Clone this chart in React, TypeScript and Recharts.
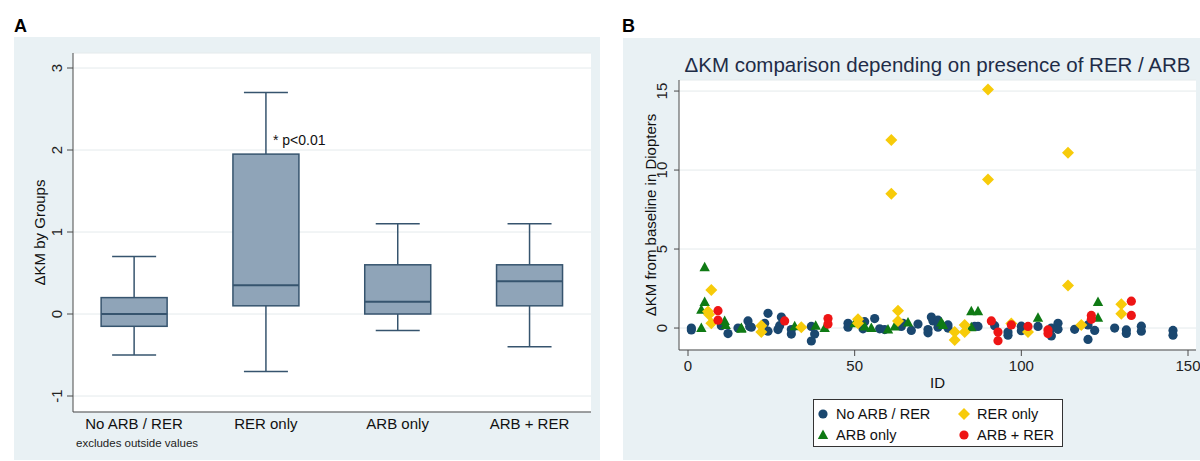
import React from "react";
import {
  ComposedChart,
  Bar,
  XAxis,
  YAxis,
  CartesianGrid,
  ScatterChart,
  Scatter,
  Legend,
  Label,
} from "recharts";

const FONT = "'Liberation Sans', Arial, Helvetica, sans-serif";
const BG = "#e9f1f4";
const GRID = "#e4eaec";
const AXIS = "#4a4a4a";

// Panel A: box plot per group
const groups = ["No ARB / RER", "RER only", "ARB only", "ARB + RER"];
const groupPos = [1, 2, 3, 4];
const whiskerLow = [-0.5, -0.7, -0.2, -0.4];
const quartile1 = [-0.15, 0.1, 0, 0.1];
const medians = [0, 0.35, 0.15, 0.4];
const quartile3 = [0.2, 1.95, 0.6, 0.6];
const whiskerHigh = [0.7, 2.7, 1.1, 1.1];
const boxTicks = [-1, 0, 1, 2, 3];

// Panel B: [ID, ΔKM]
const noArbRer: [number, number][] = [
  [1, 0], [1, -0.12], [10, 0.15], [12, -0.35], [15, 0], [18, 0.45], [18.5, 0.1],
  [19, 0.05], [23, 0.3], [24, 0.93], [24, -0.2], [27, -0.1], [27.5, 0.15], [28, 0.7],
  [31, -0.38], [31, -0.1], [37, -0.82], [38, -0.38], [37, 0.1], [48, 0.3], [48, 0.05],
  [52.5, -0.05], [53, 0.4], [56, 0.6], [57.5, -0.05], [59, -0.1], [64, 0.1], [64.5, 0.3],
  [67, -0.15], [69, 0.25], [72, -0.1], [72, -0.3], [73, 0.7], [73.5, 0.45], [75, 0.5],
  [75, 0.05], [78, 0.2], [78, 0], [86, 0.1], [87, 0.1], [92, 0.15], [96, -0.45],
  [96, -0.25], [100, 0.12], [100, -0.17], [105, 0.1], [109, -0.5], [109, 0], [111, 0.3],
  [111, -0.08], [116, -0.08], [120, 0.2], [120, -0.72], [122, -0.15], [128, 0],
  [131.5, -0.12], [131.5, -0.34], [136, 0.12], [136, -0.2], [145.5, -0.15], [145.5, -0.45],
];
const arbOnly: [number, number][] = [
  [4, 0], [4, 1.15], [5, 3.85], [5, 1.65], [11, 0.45], [11.3, 0.2], [16, 0], [16, -0.05],
  [32, 0.12], [38.3, 0.15], [41, 0], [50, 0.3], [53, 0.1], [55, 0], [60, -0.1], [62, 0.1],
  [66, 0.35], [76, 0.35], [76.5, 0.2], [85, 1.07], [87, 1.07], [85, 0.05], [105, 0.65],
  [123, 1.65], [123, 0.65],
];
const rerOnly: [number, number][] = [
  [6, 1.05], [6.3, 0.85], [7, 2.4], [7, 0.3], [22, 0.15], [22, -0.25], [34, 0.05],
  [51, 0.55], [51, 0.3], [61, 11.9], [61, 8.5], [63, 1.1], [63, 0.45], [80, -0.75],
  [80, -0.25], [83, 0.2], [83, -0.25], [90, 15.1], [90, 9.4], [97, 0.28], [102, -0.25],
  [114, 11.1], [114, 2.7], [118, 0.2], [130, 1.5], [130, 0.9],
];
const arbRer: [number, number][] = [
  [9, 1.1], [9, 0.5], [29, 0.45], [42, 0.6], [42, 0.25], [91, 0.45], [93, -0.25],
  [93, -0.8], [97, 0.2], [102, 0.1], [108, -0.12], [108, -0.35], [121, 0.8], [121, 0.55],
  [133, 1.7], [133, 0.8],
];
const idTicks = [0, 50, 100, 150];
const kmTicks = [0, 5, 10, 15];

const boxData = groups.map((g, i) => ({
  group: g,
  pos: groupPos[i],
  lo: whiskerLow[i],
  q1: quartile1[i],
  med: medians[i],
  q3: quartile3[i],
  hi: whiskerHigh[i],
}));

const toPts = (arr: [number, number][]) => arr.map(([id, km]) => ({ id, km }));

const BOX_FILL = "#8fa4b8";
const BOX_LINE = "#36546e";

function BoxShape(props: any) {
  const { x, y, width, height, payload } = props;
  const top = Math.min(y, y + height);
  const h = Math.abs(height);
  const ppu = h / (payload.q3 - payload.q1);
  const yOf = (v: number) => top + (payload.q3 - v) * ppu;
  const cx = x + width / 2;
  const cap = 22;
  return (
    <g>
      <line x1={cx} x2={cx} y1={yOf(payload.hi)} y2={yOf(payload.q3)} stroke={BOX_LINE} strokeWidth={1.5} />
      <line x1={cx} x2={cx} y1={yOf(payload.q1)} y2={yOf(payload.lo)} stroke={BOX_LINE} strokeWidth={1.5} />
      <line x1={cx - cap} x2={cx + cap} y1={yOf(payload.hi)} y2={yOf(payload.hi)} stroke={BOX_LINE} strokeWidth={1.5} />
      <line x1={cx - cap} x2={cx + cap} y1={yOf(payload.lo)} y2={yOf(payload.lo)} stroke={BOX_LINE} strokeWidth={1.5} />
      <rect x={x} y={top} width={width} height={h} fill={BOX_FILL} stroke={BOX_LINE} strokeWidth={1.5} />
      <line x1={x} x2={x + width} y1={yOf(payload.med)} y2={yOf(payload.med)} stroke={BOX_LINE} strokeWidth={2} />
      {payload.group === "RER only" && (
        <text x={cx + 7} y={yOf(payload.q3) - 9} fontSize={14} fill="#111" fontFamily={FONT}>
          * p&lt;0.01
        </text>
      )}
    </g>
  );
}

function RotTick(props: any) {
  const { x, y, payload, shift } = props;
  return (
    <text
      x={x - shift}
      y={y}
      transform={`rotate(-90, ${x - shift}, ${y})`}
      textAnchor="middle"
      fontSize={15}
      fill="#222"
      fontFamily={FONT}
    >
      {payload.value}
    </text>
  );
}

function GroupTick(props: any) {
  const { x, y, payload } = props;
  return (
    <text x={x} y={y + 17} textAnchor="middle" fontSize={15} fill="#111" fontFamily={FONT}>
      {groups[payload.value - 1]}
    </text>
  );
}

const Circle = (color: string) => (p: any) => <circle cx={p.cx} cy={p.cy} r={4.6} fill={color} />;
const Triangle = (color: string) => (p: any) => (
  <polygon points={`${p.cx},${p.cy - 5.5} ${p.cx - 5.2},${p.cy + 4} ${p.cx + 5.2},${p.cy + 4}`} fill={color} />
);
const Diamond = (color: string) => (p: any) => (
  <polygon points={`${p.cx},${p.cy - 6} ${p.cx + 6},${p.cy} ${p.cx},${p.cy + 6} ${p.cx - 6},${p.cy}`} fill={color} />
);

const NAVY = "#1a476f";
const GREEN = "#0f7a14";
const GOLD = "#f7cb0a";
const RED = "#ee1515";

const legendItems = [
  { name: "No ARB / RER", color: NAVY, kind: "circle" },
  { name: "RER only", color: GOLD, kind: "diamond" },
  { name: "ARB only", color: GREEN, kind: "triangle" },
  { name: "ARB + RER", color: RED, kind: "circle" },
];

function LegendMarker({ kind, color }: { kind: string; color: string }) {
  return (
    <svg width={14} height={14} style={{ display: "block" }}>
      {kind === "circle" && <circle cx={7} cy={7} r={4.6} fill={color} />}
      {kind === "triangle" && <polygon points="7,1.5 1.8,11 12.2,11" fill={color} />}
      {kind === "diamond" && <polygon points="7,1 13,7 7,13 1,7" fill={color} />}
    </svg>
  );
}

function StataLegend() {
  return (
    <div
      style={{
        width: 250,
        height: 48,
        boxSizing: "border-box",
        border: "1px solid #333",
        background: "#fff",
        display: "grid",
        gridTemplateColumns: "140px 110px",
        gridTemplateRows: "21px 21px",
        paddingTop: 3,
        fontFamily: FONT,
        fontSize: 14.5,
        color: "#111",
      }}
    >
      {legendItems.map((it) => (
        <div key={it.name} style={{ display: "flex", alignItems: "center", paddingLeft: it.name === "RER only" || it.name === "ARB + RER" ? 3 : 2 }}>
          <LegendMarker kind={it.kind} color={it.color} />
          <span style={{ marginLeft: 6 }}>{it.name}</span>
        </div>
      ))}
    </div>
  );
}

export default function App() {
  return (
    <div style={{ position: "absolute", left: 0, top: 0, width: 1200, height: 461, background: "#fff", fontFamily: FONT }}>
      <div style={{ position: "absolute", left: 14, top: 16, fontWeight: "bold", fontSize: 18 }}>A</div>
      <div style={{ position: "absolute", left: 622, top: 16, fontWeight: "bold", fontSize: 18 }}>B</div>
      <div style={{ position: "absolute", left: 14, top: 37, width: 586, height: 423, background: BG }} />
      <div style={{ position: "absolute", left: 623, top: 38, width: 577, height: 422, background: BG }} />

      <div style={{ position: "absolute", left: 0, top: 0 }}>
        <ComposedChart width={600} height={461} data={boxData} margin={{ top: 53, right: 9, bottom: 19, left: 13 }}>
          <CartesianGrid vertical={false} stroke={GRID} fill="#fff" />
          <XAxis
            type="number"
            dataKey="pos"
            domain={[0.537, 4.467]}
            ticks={groupPos}
            allowDataOverflow
            height={30}
            tickLine={false}
            tickSize={0}
            tickMargin={0}
            axisLine={{ stroke: AXIS }}
            tick={<GroupTick />}
            interval={0}
          />
          <YAxis
            type="number"
            domain={[-1.195, 3.183]}
            ticks={boxTicks}
            allowDataOverflow
            width={60}
            tickSize={6}
            tickMargin={0}
            axisLine={{ stroke: AXIS }}
            tickLine={{ stroke: AXIS }}
            tick={<RotTick shift={5} />}
          >
            <Label
              content={(p: any) => {
                const vb = p.viewBox;
                const lx = vb.x + 32;
                const ly = vb.y + vb.height / 2;
                return (
                  <text x={lx} y={ly} transform={`rotate(-90, ${lx}, ${ly})`} textAnchor="middle" fontSize={15} fill="#111" fontFamily={FONT}>
                    ΔKM by Groups
                  </text>
                );
              }}
            />
          </YAxis>
          <Bar dataKey={(d: any) => [d.q1, d.q3]} barSize={66} shape={<BoxShape />} isAnimationActive={false} />
        </ComposedChart>
      </div>
      <div style={{ position: "absolute", left: 76, top: 437, fontSize: 11.5, color: "#222" }}>excludes outside values</div>

      <div style={{ position: "absolute", left: 679, width: 517, top: 53, textAlign: "center", fontSize: 20.5, color: "#1e2c47", whiteSpace: "nowrap" }}>
        ΔKM comparison depending on presence of RER / ARB
      </div>
      <div style={{ position: "absolute", left: 623, top: 0 }}>
        <ScatterChart width={577} height={461} margin={{ top: 80, right: 4, bottom: 71, left: 6 }}>
          <CartesianGrid vertical={false} stroke={GRID} fill="#fff" />
          <XAxis
            type="number"
            dataKey="id"
            domain={[-2.7, 152.4]}
            ticks={idTicks}
            allowDataOverflow
            height={40}
            tickSize={6}
            tickMargin={4}
            axisLine={{ stroke: AXIS }}
            tickLine={{ stroke: AXIS }}
            tick={{ fontSize: 15, fill: "#222", fontFamily: FONT }}
          >
            <Label
              content={(p: any) => {
                const vb = p.viewBox;
                return (
                  <text x={vb.x + vb.width / 2} y={vb.y + 38} textAnchor="middle" fontSize={15} fill="#111" fontFamily={FONT}>
                    ID
                  </text>
                );
              }}
            />
          </XAxis>
          <YAxis
            type="number"
            dataKey="km"
            domain={[-1.39, 15.7]}
            ticks={kmTicks}
            allowDataOverflow
            width={50}
            tickSize={5}
            tickMargin={0}
            axisLine={{ stroke: AXIS }}
            tickLine={{ stroke: AXIS }}
            tick={<RotTick shift={7} />}
          >
            <Label
              content={(p: any) => {
                const vb = p.viewBox;
                const lx = vb.x + 27;
                const ly = vb.y + vb.height / 2;
                return (
                  <text x={lx} y={ly} transform={`rotate(-90, ${lx}, ${ly})`} textAnchor="middle" fontSize={15} fill="#111" fontFamily={FONT}>
                    ΔKM from baseline in Diopters
                  </text>
                );
              }}
            />
          </YAxis>
          <Legend
            layout="horizontal"
            verticalAlign="middle"
            align="center"
            content={() => <StataLegend />}
            wrapperStyle={{ left: 190, top: 399, width: 250, height: 48 }}
          />
          <Scatter name="No ARB / RER" data={toPts(noArbRer)} shape={Circle(NAVY)} isAnimationActive={false} />
          <Scatter name="ARB only" data={toPts(arbOnly)} shape={Triangle(GREEN)} isAnimationActive={false} />
          <Scatter name="RER only" data={toPts(rerOnly)} shape={Diamond(GOLD)} isAnimationActive={false} />
          <Scatter name="ARB + RER" data={toPts(arbRer)} shape={Circle(RED)} isAnimationActive={false} />
        </ScatterChart>
      </div>
    </div>
  );
}
